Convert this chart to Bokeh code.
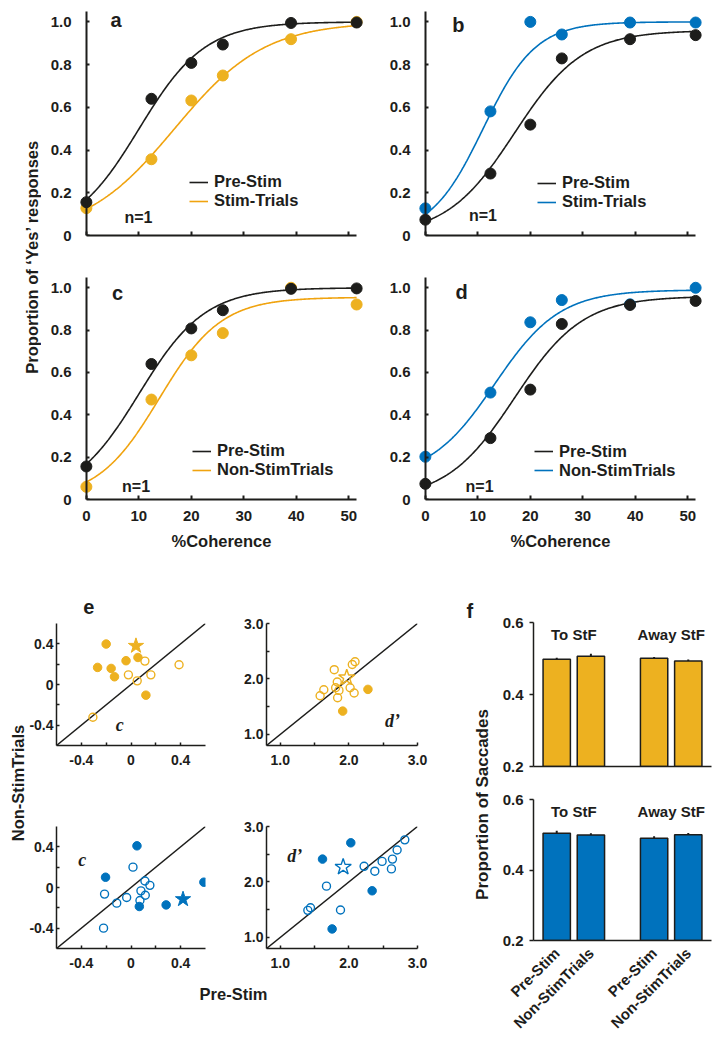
import numpy as np
from bokeh.plotting import figure
from bokeh.layouts import row, column
from bokeh.models import (Range1d, FactorRange, FixedTicker, CustomJSTickFormatter, LinearAxis,
                          Legend, LegendItem, Label, Slope, ColumnDataSource)
from bokeh.core.properties import value
from bokeh.embed import file_html
from bokeh.resources import INLINE

FONT = "Liberation Sans"
SERIF = "Liberation Serif"
INK = "#1d1d1b"
GOLD = "#EDB120"
GOLD_LINE = "#F0A30F"
BLUE = "#0072BD"

# ---------------- panels a-d: psychometric data ----------------
coherence = [0, 12.4, 20, 26, 39, 51.5]
pre_stim_ac = [0.156, 0.640, 0.808, 0.894, 0.995, 0.997]
stim_a = [0.128, 0.357, 0.632, 0.749, 0.919, 1.000]
nonstim_c = [0.060, 0.472, 0.681, 0.786, 1.000, 0.921]
pre_stim_bd = [0.074, 0.290, 0.519, 0.829, 0.919, 0.938]
stim_b = [0.127, 0.581, 1.000, 0.941, 0.997, 0.997]
nonstim_d = [0.202, 0.505, 0.837, 0.942, 0.922, 1.000]
# logistic fit parameters: (floor, ceiling, midpoint, scale)
fit_pre_ac = (0.0, 1.0, 10.05, 6.28)
fit_stim_a = (0.0, 1.0, 16.8, 8.6)
fit_nonstim_c = (0.0, 0.955, 13.9, 5.9)
fit_pre_bd = (0.0, 0.96, 17.0, 6.5)
fit_stim_b = (0.0, 1.0, 11.0, 5.0)
fit_nonstim_d = (0.10, 0.99, 13.2, 6.2)
coh_ticks = [0, 10, 20, 30, 40, 50]
prop_ticks = [0, 0.2, 0.4, 0.6, 0.8, 1.0]

# ---------------- panel e: c and d' scatter data ----------------
c_gold_filled_x = [-0.200, -0.269, -0.160, -0.133, -0.040, 0.056, 0.120]
c_gold_filled_y = [0.398, 0.168, 0.158, 0.076, 0.234, 0.266, -0.105]
c_gold_open_x = [0.112, -0.021, 0.050, 0.160, 0.387, -0.307]
c_gold_open_y = [0.230, 0.095, 0.036, 0.095, 0.194, -0.322]
c_gold_star_x = [0.040]
c_gold_star_y = [0.380]
dp_gold_filled_x = [2.278, 1.910]
dp_gold_filled_y = [1.812, 1.420]
dp_gold_open_x = [2.050, 2.090, 1.787, 1.831, 1.635, 1.581, 1.807, 1.856, 1.836, 2.018, 2.077]
dp_gold_open_y = [2.260, 2.310, 2.167, 1.945, 1.806, 1.698, 1.842, 1.794, 1.661, 1.842, 1.746]
dp_gold_star_x = [1.969]
dp_gold_star_y = [2.023]
c_blue_filled_x = [0.048, -0.205, 0.067, 0.283, 0.587]
c_blue_filled_y = [0.410, 0.101, -0.187, -0.171, 0.052]
c_blue_open_x = [0.016, -0.213, -0.115, -0.035, 0.080, 0.112, 0.152, 0.115, 0.072, -0.221]
c_blue_open_y = [0.200, -0.065, -0.154, -0.098, -0.033, 0.064, 0.021, -0.076, -0.128, -0.400]
c_blue_star_x = [0.419]
c_blue_star_y = [-0.115]
dp_blue_filled_x = [2.028, 1.616, 2.339, 1.756]
dp_blue_filled_y = [2.706, 2.412, 1.841, 1.153]
dp_blue_open_x = [2.222, 2.378, 2.484, 2.635, 2.703, 2.815, 2.620, 1.674, 1.441, 1.402, 1.878]
dp_blue_open_y = [2.282, 2.194, 2.371, 2.412, 2.576, 2.759, 2.235, 1.924, 1.535, 1.488, 1.494]
dp_blue_star_x = [1.917]
dp_blue_star_y = [2.270]
c_major = [-0.4, 0, 0.4]
c_minor = [-0.2, 0.2]
dp_major = [1.0, 2.0, 3.0]
dp_minor = [1.5, 2.5]

# ---------------- panel f: saccade proportions ----------------
f_groups = ["To StF", "Away StF"]
f_conditions = ["Pre-Stim", "Non-StimTrials"]
sacc_stim = [0.498, 0.506, 0.501, 0.493]
sacc_stim_err = [0.004, 0.007, 0.003, 0.004]
sacc_nonstim = [0.504, 0.499, 0.490, 0.500]
sacc_nonstim_err = [0.007, 0.005, 0.006, 0.005]
sacc_ticks = [0.2, 0.4, 0.6]

FMT1 = CustomJSTickFormatter(code="return tick == 0 ? '0' : tick.toFixed(1);")
FMT0 = CustomJSTickFormatter(code="return tick.toFixed(0);")


def logistic(x, g, t, m, s):
    return g + (t - g) / (1.0 + np.exp(-(x - m) / s))


def style_axis(ax, size="15px", standoff=6, lw=1.5):
    ax.axis_line_color = INK
    ax.axis_line_width = lw
    ax.major_tick_line_color = INK
    ax.major_tick_line_width = lw
    ax.minor_tick_line_color = INK
    ax.minor_tick_line_width = lw
    ax.major_label_text_font = FONT
    ax.major_label_text_font_style = "bold"
    ax.major_label_text_font_size = size
    ax.major_label_text_color = INK
    ax.major_label_standoff = standoff
    ax.axis_label_text_font = FONT
    ax.axis_label_text_font_style = "bold"
    ax.axis_label_text_font_size = "16.5px"
    ax.axis_label_text_color = INK


def hide_labels(ax):
    ax.major_label_text_color = None
    ax.major_label_text_font_size = "1px"
    ax.major_label_standoff = 0


def base_fig(w, h, xr, yr, left, right, top, bottom):
    p = figure(width=w, height=h, x_range=xr, y_range=yr, toolbar_location=None,
               output_backend="svg", min_border_left=left, min_border_right=right,
               min_border_top=top, min_border_bottom=bottom)
    p.outline_line_color = None
    p.grid.visible = False
    p.background_fill_color = "white"
    p.border_fill_color = "white"
    return p


def blank_fig(w, h):
    p = figure(width=w, height=h, x_range=Range1d(0, w), y_range=Range1d(0, h),
               x_axis_location=None, y_axis_location=None, toolbar_location=None,
               output_backend="svg", min_border=0)
    p.outline_line_color = None
    p.grid.visible = False
    return p


def text_label(p, x, y, text, size, angle=0.0, align="left", baseline="alphabetic",
               font=FONT, style="bold"):
    p.add_layout(Label(x=x, y=y, text=text, angle=angle, text_align=align,
                       text_baseline=baseline, text_font=font, text_font_style=style,
                       text_font_size=size, text_color=INK))


def psy_panel(letter, letter_xy, pre, other, fit_pre, fit_other, color, line_color,
              other_name, width, height, right, top, bottom, n_xy, legend_loc, show_x):
    p = base_fig(width, height, Range1d(-1.5, 53), Range1d(0, 1.058), 37, right, top, bottom)
    xs = np.linspace(0, 51.5, 300)
    r_other = p.line(xs, logistic(xs, *fit_other), line_color=line_color, line_width=1.6)
    r_pre = p.line(xs, logistic(xs, *fit_pre), line_color=INK, line_width=1.6)
    p.scatter(coherence, other, size=11, fill_color=color, line_color=color)
    p.scatter(coherence, pre, size=11, fill_color=INK, line_color=INK)

    xa = p.xaxis[0]
    style_axis(xa, standoff=11, lw=2)
    xa.ticker = FixedTicker(ticks=coh_ticks)
    xa.formatter = FMT0
    xa.bounds = (0, 51.5)
    xa.major_tick_in = 4
    xa.major_tick_out = 0
    xa.minor_tick_line_color = None
    if show_x:
        xa.axis_label = "%Coherence"
        xa.axis_label_standoff = 8
    else:
        hide_labels(xa)

    # tick labels sit at the frame edge ...
    ya = p.yaxis[0]
    style_axis(ya, standoff=1, lw=2)
    ya.ticker = FixedTicker(ticks=prop_ticks)
    ya.formatter = FMT1
    ya.axis_line_color = None
    ya.major_tick_line_color = None
    ya.minor_tick_line_color = None
    # ... while the axis line itself runs through coherence 0
    yline = LinearAxis(fixed_location=0, ticker=FixedTicker(ticks=prop_ticks), formatter=FMT1)
    style_axis(yline, lw=2)
    hide_labels(yline)
    yline.bounds = (0, 1.05)
    yline.major_tick_in = 3
    yline.major_tick_out = 0
    yline.minor_tick_line_color = None
    p.add_layout(yline, "left")

    text_label(p, letter_xy[0], letter_xy[1], letter, "20px")
    text_label(p, n_xy[0], n_xy[1], "n=1", "16px", baseline="middle")

    legend = Legend(items=[LegendItem(label="Pre-Stim", renderers=[r_pre]),
                           LegendItem(label=other_name, renderers=[r_other])],
                    location=legend_loc, orientation="vertical", glyph_width=19,
                    glyph_height=18, label_height=18, label_standoff=6, spacing=0,
                    padding=0, margin=0, border_line_alpha=0, background_fill_alpha=0,
                    label_text_font=FONT, label_text_font_style="bold",
                    label_text_font_size="16.5px", label_text_color=INK)
    p.add_layout(legend)
    return p


def scatter_panel(width, height, right, top, bottom, lim, majors, minors, color,
                  filled, opened, star, star_filled, tag, tag_xy):
    p = base_fig(width, height, Range1d(*lim), Range1d(*lim), 28, right, top, bottom)
    p.add_layout(Slope(gradient=1, y_intercept=0, line_color=INK, line_width=1.5,
                       level="underlay"))
    p.scatter(opened[0], opened[1], size=8, fill_color=None, line_color=color, line_width=1.4)
    p.scatter(filled[0], filled[1], size=8.5, fill_color=color, line_color=color)
    if star_filled:
        p.scatter(star[0], star[1], marker="star", size=16, fill_color=color, line_color=color)
    else:
        p.scatter(star[0], star[1], marker="star", size=17, fill_color=None,
                  line_color=color, line_width=1.4)
    for ax, so in ((p.xaxis[0], 9), (p.yaxis[0], 3)):
        style_axis(ax, size="14px", standoff=so, lw=1.5)
        ax.ticker = FixedTicker(ticks=majors, minor_ticks=minors)
        ax.formatter = FMT1
        ax.major_tick_in = 3
        ax.major_tick_out = 0
        ax.minor_tick_in = 3
        ax.minor_tick_out = 0
    text_label(p, tag_xy[0], tag_xy[1], tag, "18px", align="center", baseline="middle",
               font=SERIF, style="bold italic")
    return p


def bar_panel(vals, errs, color, height, top, bottom, show_labels):
    factors = [(g, c) for g in f_groups for c in f_conditions]
    xr = FactorRange(*factors, group_padding=0.85, range_padding=0.0742)
    p = base_fig(219, height, xr, Range1d(0.2, 0.6), 39, 2, top, bottom)
    src = ColumnDataSource(dict(x=factors, top=vals,
                                lo=[v - e for v, e in zip(vals, errs)],
                                hi=[v + e for v, e in zip(vals, errs)]))
    p.segment(x0="x", y0="lo", x1="x", y1="hi", source=src, line_color=INK, line_width=2)
    p.vbar(x="x", top="top", bottom=0.0, width=0.8, source=src, fill_color=color,
           line_color=INK, line_width=1.5)
    p.text(x=f_groups, y=[0.567] * len(f_groups), text=f_groups, text_align="center",
           text_baseline="middle", text_font=value(FONT), text_font_style="bold",
           text_font_size="15px", text_color=INK)
    ya = p.yaxis[0]
    style_axis(ya, standoff=6, lw=1.5)
    ya.ticker = FixedTicker(ticks=sacc_ticks)
    ya.formatter = FMT1
    ya.major_tick_in = 0
    ya.major_tick_out = 4
    ya.minor_tick_line_color = None
    xa = p.xaxis[0]
    style_axis(xa, standoff=4, lw=1.5)
    xa.major_tick_line_color = None
    xa.group_text_color = None
    xa.group_text_font_size = "1px"
    xa.separator_line_color = None
    if show_labels:
        xa.major_label_orientation = np.pi / 4
    else:
        hide_labels(xa)
    return p


# ---------------- top section ----------------
pa = psy_panel("a", (4.58, 1.007), pre_stim_ac, stim_a, fit_pre_ac, fit_stim_a, GOLD, GOLD_LINE,
               "Stim-Trials", 339, 257, 16, 1, 30, (7.25, 0.086), (111, 25), False)
pb = psy_panel("b", (5.13, 0.985), pre_stim_bd, stim_b, fit_pre_bd, fit_stim_b, BLUE, BLUE,
               "Stim-Trials", 332, 257, 9, 1, 30, (8.3, 0.094), (120, 24), False)
pc = psy_panel("c", (4.9, 0.973), pre_stim_ac, nonstim_c, fit_pre_ac, fit_nonstim_c, GOLD, GOLD_LINE,
               "Non-StimTrials", 339, 295, 16, 10, 61, (6.8, 0.06), (114, 20), True)
pd = psy_panel("d", (5.76, 0.98), pre_stim_bd, nonstim_d, fit_pre_bd, fit_nonstim_d, BLUE, BLUE,
               "Non-StimTrials", 332, 295, 9, 10, 61, (7.66, 0.063), (117, 19.5), True)

lab1 = blank_fig(33, 552)
text_label(lab1, 23, 306, "Proportion of  \u2018Yes\u2019 responses", "16.5px", angle=np.pi / 2,
           align="center", baseline="middle")

top_section = row(lab1, column(row(pa, pb), row(pc, pd)))

# ---------------- bottom section ----------------
ehead = blank_fig(212, 58)
text_label(ehead, 38, 12, "e", "20px")

e1 = scatter_panel(212, 177, 33, 5, 50, (-0.6, 0.6), c_major, c_minor, GOLD,
                   (c_gold_filled_x, c_gold_filled_y), (c_gold_open_x, c_gold_open_y),
                   (c_gold_star_x, c_gold_star_y), True, "c", (-0.091, -0.403))
e2 = scatter_panel(222, 235, 43, 63, 50, (0.8, 3.0), dp_major, dp_minor, GOLD,
                   (dp_gold_filled_x, dp_gold_filled_y), (dp_gold_open_x, dp_gold_open_y),
                   (dp_gold_star_x, dp_gold_star_y), False, "d\u2019", (2.637, 1.25))
e3 = scatter_panel(212, 185, 33, 31, 32, (-0.6, 0.6), c_major, c_minor, BLUE,
                   (c_blue_filled_x, c_blue_filled_y), (c_blue_open_x, c_blue_open_y),
                   (c_blue_star_x, c_blue_star_y), True, "c", (-0.393, 0.269))
e4 = scatter_panel(222, 185, 43, 31, 32, (0.8, 3.0), dp_major, dp_minor, BLUE,
                   (dp_blue_filled_x, dp_blue_filled_y), (dp_blue_open_x, dp_blue_open_y),
                   (dp_blue_star_x, dp_blue_star_y), False, "d\u2019", (1.21, 2.476))

xlab = blank_fig(434, 26)
text_label(xlab, 207, 13, "Pre-Stim", "16.5px", align="center", baseline="middle")

lab2 = blank_fig(18, 480)
text_label(lab2, 9.5, 257.5, "Non-StimTrials", "16.5px", angle=np.pi / 2, align="center",
           baseline="middle")

lab3 = blank_fig(34, 480)
text_label(lab3, 6, 430, "f", "20px")
text_label(lab3, 21.7, 236, "Proportion of Saccades", "17px", angle=np.pi / 2,
           align="center", baseline="middle")

f1 = bar_panel(sacc_stim, sacc_stim_err, GOLD, 222, 62, 16, False)
f2 = bar_panel(sacc_nonstim, sacc_nonstim_err, BLUE, 258, 17, 98, True)

e_top = row(column(ehead, e1), e2)
bottom_section = row(lab2, column(e_top, row(e3, e4), xlab), lab3, column(f1, f2))

layout = column(top_section, bottom_section, margin=(8, 0, 0, 8))

open("out.html", "w").write(file_html(layout, INLINE))
